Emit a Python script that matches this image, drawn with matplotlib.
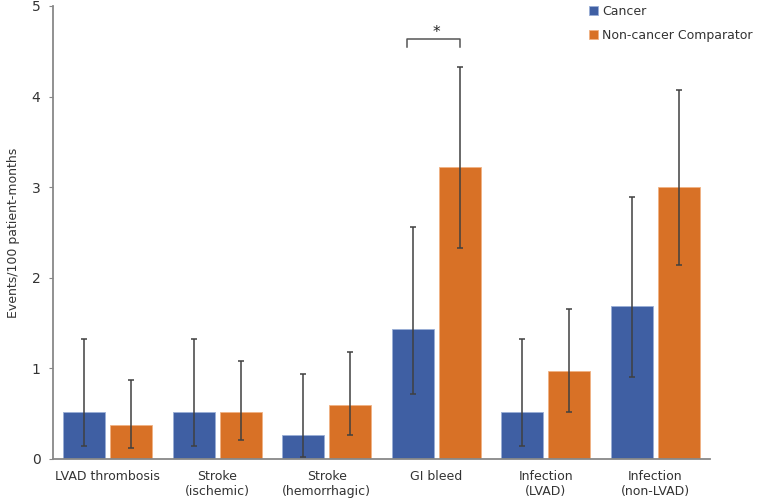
import numpy as np
import matplotlib
matplotlib.use('Agg')
import matplotlib.pyplot as plt

plt.rc('font', family='DejaVu Sans')
plt.rc('font', size=9)

categories = ['LVAD thrombosis', 'Stroke\n(ischemic)', 'Stroke\n(hemorrhagic)',
              'GI bleed', 'Infection\n(LVAD)', 'Infection\n(non-LVAD)']

cancer = [0.52, 0.52, 0.26, 1.43, 0.52, 1.69]
cancer_lo = [0.14, 0.14, 0.02, 0.72, 0.14, 0.90]
cancer_hi = [1.33, 1.33, 0.94, 2.56, 1.33, 2.89]

noncancer = [0.37, 0.52, 0.60, 3.22, 0.97, 3.00]
noncancer_lo = [0.12, 0.21, 0.26, 2.33, 0.52, 2.14]
noncancer_hi = [0.87, 1.08, 1.18, 4.33, 1.66, 4.07]

blue = '#3F5FA3'
orange = '#D87126'
gray = '#888888'
errc = '#404040'

fig = plt.figure(figsize=(7.59, 5.0), dpi=100)
ax = fig.add_axes([0.0698, 0.082, 0.8656, 0.906])

x = np.arange(len(categories))
w = 0.385
off = 0.215

c = np.array(cancer)
n = np.array(noncancer)
cerr = [c - np.array(cancer_lo), np.array(cancer_hi) - c]
nerr = [n - np.array(noncancer_lo), np.array(noncancer_hi) - n]

ax.bar(x - off, c, w, color=blue, edgecolor='#9aaed6', linewidth=0.6, label='Cancer', zorder=2)
ax.bar(x + off, n, w, color=orange, edgecolor='#f0b283', linewidth=0.6, label='Non-cancer Comparator', zorder=2)
ax.errorbar(x - off, c, yerr=cerr, fmt='none', ecolor=errc, elinewidth=1.1, capsize=2.5, capthick=1.1, zorder=3)
ax.errorbar(x + off, n, yerr=nerr, fmt='none', ecolor=errc, elinewidth=1.1, capsize=2.5, capthick=1.1, zorder=3)

# significance bracket for GI bleed
gi = 3
bx0, bx1 = gi - off - 0.05, gi + off
ax.plot([bx0, bx0, bx1, bx1], [4.55, 4.64, 4.64, 4.55], color='#555555', lw=1.1, zorder=3)
ax.text(gi, 4.63, '*', ha='center', va='bottom', fontsize=11, color='#222222')

ax.set_xlim(-0.5, len(categories) - 0.5)
ax.set_ylim(0, 5)
ax.set_yticks([0, 1, 2, 3, 4, 5])
ax.set_xticks(x)
ax.set_xticklabels(categories, color='#333333')
ax.tick_params(axis='x', length=0, pad=8)
ax.tick_params(axis='y', length=3, color=gray, labelcolor='#333333', labelsize=10, pad=6)
ax.set_ylabel('Events/100 patient-months', color='#333333', labelpad=8)

for s in ['top', 'right']:
    ax.spines[s].set_visible(False)
for s in ['left', 'bottom']:
    ax.spines[s].set_color(gray)
    ax.spines[s].set_linewidth(1.3)

leg = fig.legend(loc='upper right', bbox_to_anchor=(0.998, 1.0), frameon=False,
                 borderpad=0.4, borderaxespad=0,
                 handlelength=0.7, handleheight=0.7, handletextpad=0.3,
                 labelspacing=0.85, fontsize=9)
for t in leg.get_texts():
    t.set_color('#333333')

fig.savefig('out.png', dpi=100)
